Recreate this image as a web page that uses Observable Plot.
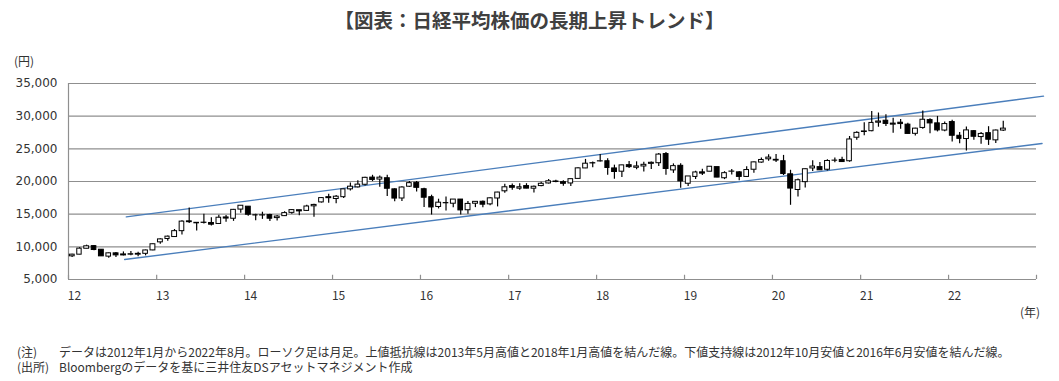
<!DOCTYPE html>
<html><head><meta charset="utf-8">
<script src="https://cdn.jsdelivr.net/npm/d3@7"></script>
<script src="https://cdn.jsdelivr.net/npm/@observablehq/plot@0.6"></script>
<style>
body{margin:0;background:#fff;}
#wrap{position:relative;width:1059px;height:381px;font-family:"Noto Sans CJK JP","Noto Sans",sans-serif;color:#333;}
#wrap svg{position:absolute;left:0;top:0;}
.t{position:absolute;white-space:nowrap;font-size:12px;line-height:16px;}
#title{position:absolute;left:0;top:8px;width:1059px;text-align:center;font-size:19.5px;line-height:24px;font-weight:bold;color:#404040;}
</style></head><body>
<div id="wrap">
<div id="title">【図表：日経平均株価の長期上昇トレンド】</div>
<div class="t" style="left:14px;top:53px;">(円)</div>
<div class="t" style="left:1020px;top:304px;">(年)</div>
<div class="t" style="left:17px;top:344px;">(注)</div>
<div class="t" style="left:59px;top:344px;">データは2012年1月から2022年8月。ローソク足は月足。上値抵抗線は2013年5月高値と2018年1月高値を結んだ線。下値支持線は2012年10月安値と2016年6月安値を結んだ線。</div>
<div class="t" style="left:17px;top:359px;">(出所)</div>
<div class="t" style="left:59px;top:359px;">Bloombergのデータを基に三井住友DSアセットマネジメント作成</div>
</div>
<script>
// Monthly candles, Jan 2012 – Aug 2022
const firstMonth = "2012-01-01";
const open = [
  8549, 8800, 9707, 10110, 9560, 8500, 9003, 8686, 8800, 8800, 8930, 9452,
  10688, 11200, 11500, 12400, 13900, 13600, 13700, 13650, 13500, 14500, 14300, 15700,
  16147, 14800, 14800, 14860, 14400, 14700, 15200, 15600, 15500, 16200, 16800, 17600,
  17325, 17600, 18800, 19100, 19500, 20600, 20300, 20500, 18800, 17400, 19200, 19800,
  18818, 17600, 16100, 16700, 16600, 17235, 15600, 16600, 16900, 16500, 17400, 18500,
  19298, 18900, 19300, 18900, 19300, 19700, 20000, 19900, 19700, 20400, 22000, 22800,
  23073, 23100, 22000, 21500, 22500, 22100, 22300, 22700, 22800, 24200, 21700, 22400,
  19655, 20700, 21400, 21500, 22200, 20500, 21500, 21400, 20700, 21800, 22900, 23400,
  23319, 23100, 21100, 18700, 19900, 22000, 22200, 21800, 23200, 23300, 23100, 26700,
  27575, 27700, 29000, 29300, 28700, 29000, 28700, 27300, 28200, 29400, 28900, 27800,
  29098, 27000, 26500, 27700, 26800, 27400, 26300, 27800
];
const high = [
  8866, 9866, 10255, 10190, 9591, 9066, 9136, 9222, 9288, 9179, 9500, 10433,
  11229, 11662, 12650, 13980, 15942, 13711, 15000, 14466, 14817, 14800, 15727, 16320,
  16164, 15000, 15300, 15000, 14800, 15376, 15700, 15600, 16374, 16500, 17520, 18030,
  17850, 18800, 19778, 20133, 20655, 20952, 20851, 20946, 18900, 19200, 20012, 20012,
  18951, 17905, 17291, 17613, 17251, 17235, 16938, 16900, 17000, 17500, 18350, 19592,
  19615, 19668, 19668, 19300, 19900, 20318, 20200, 20100, 20400, 22100, 23382, 22994,
  24129, 23486, 22502, 22500, 23050, 23011, 22949, 23000, 24286, 24448, 22698, 22698,
  20773, 21556, 21860, 22307, 22200, 21500, 21823, 21540, 22255, 22974, 23608, 24091,
  24115, 23995, 21719, 20365, 21916, 23185, 22900, 23338, 23600, 23725, 26890, 27602,
  28979, 30714, 30485, 30208, 29700, 29480, 28900, 28139, 30795, 29600, 29960, 29121,
  29388, 27500, 28338, 27800, 27500, 28389, 27900, 29222
];
const low = [
  8349, 8790, 9700, 9388, 8540, 8238, 8365, 8614, 8636, 8488, 8619, 9400,
  10398, 10857, 11500, 11805, 13555, 12415, 13500, 13188, 13400, 13748, 13900, 15150,
  14700, 13995, 14203, 13885, 13964, 14650, 15000, 14753, 15400, 14529, 16700, 16672,
  16592, 17400, 18550, 19000, 19300, 19990, 19115, 17714, 16901, 16930, 19100, 18400,
  16017, 14865, 15800, 15471, 16000, 14864, 15000, 16000, 16000, 16300, 16111, 18200,
  18650, 18650, 18900, 18224, 19200, 19600, 19800, 19280, 19239, 20400, 21972, 22100,
  23000, 20950, 20347, 20617, 22000, 21800, 21462, 21851, 22307, 20971, 21243, 18948,
  19241, 20315, 20911, 21500, 20580, 20289, 21000, 20110, 20600, 21276, 22800, 23100,
  22892, 20916, 16358, 17646, 19000, 21529, 21710, 21600, 22878, 22948, 22948, 26300,
  27000, 27600, 28308, 28419, 27385, 28010, 27272, 26954, 28000, 27293, 27589, 27600,
  26044, 25776, 24682, 26319, 25688, 25520, 25800, 27650
];
const close = [
  8802, 9723, 10084, 9521, 8543, 9007, 8695, 8840, 8870, 8928, 9446, 10395,
  11139, 11559, 12398, 13861, 13775, 13677, 13668, 13389, 14456, 14328, 15662, 16291,
  14915, 14841, 14828, 14304, 14632, 15162, 15621, 15425, 16174, 16414, 17460, 17451,
  17674, 18798, 19207, 19520, 20563, 20236, 20585, 18890, 17388, 19083, 19747, 19034,
  17518, 16027, 16759, 16666, 17235, 15576, 16569, 16887, 16450, 17425, 18308, 19114,
  19041, 19119, 18909, 19197, 19651, 20033, 19925, 19646, 20356, 22012, 22725, 22765,
  23098, 22068, 21454, 22468, 22202, 22305, 22554, 22865, 24120, 21920, 22351, 20015,
  20773, 21385, 21206, 22259, 20601, 21276, 21522, 20704, 21756, 22927, 23294, 23657,
  23205, 21143, 18917, 20194, 21878, 22288, 21710, 23140, 23185, 22977, 26434, 27444,
  27663, 28966, 29179, 28813, 28860, 28792, 27284, 28090, 29453, 28893, 27822, 28792,
  27002, 26527, 27821, 26848, 27280, 26393, 27802, 28092
];
// Trend lines (endpoints)
const upperDates = ["2012-08-28", "2023-01-30"];
const upperValues = [14580, 33060];
const lowerDates = ["2012-08-21", "2023-01-24"];
const lowerValues = [8060, 25816];
// Axes
const yTicks = [5000, 10000, 15000, 20000, 25000, 30000, 35000];
const yearTicks = [2012, 2013, 2014, 2015, 2016, 2017, 2018, 2019, 2020, 2021, 2022, 2023];
const yearLabels = ["12", "13", "14", "15", "16", "17", "18", "19", "20", "21", "22", ""];

const start = new Date(firstMonth);
const candles = open.map((o, i) => {
  const m = d3.utcMonth.offset(start, i);
  return {m, m2: d3.utcMonth.offset(m, 1), mid: d3.utcDay.offset(m, 15),
    open: o, high: high[i], low: low[i], close: close[i],
    body: close[i] >= o ? "#ffffff" : "#000000"};
});
const upper = upperDates.map((d, i) => ({x: new Date(d), y: upperValues[i]}));
const lower = lowerDates.map((d, i) => ({x: new Date(d), y: lowerValues[i]}));
const yearDates = yearTicks.map(y => new Date(Date.UTC(y, 0, 1)));
const labelOf = new Map(yearDates.map((d, i) => [+d, yearLabels[i]]));

const chart = Plot.plot({
  width: 1059, height: 381,
  marginLeft: 68, marginRight: 23, marginTop: 83, marginBottom: 102,
  style: {background: "transparent", color: "#333"},
  x: {type: "utc", domain: [yearDates[0], yearDates[yearDates.length - 1]], axis: null},
  y: {domain: [5000, 35000], axis: null},
  color: {type: "identity"},
  marks: [
    Plot.ruleY(yTicks, {stroke: "#8f8f8f", strokeWidth: 1.2}),
    Plot.ruleX([yearDates[0]], {y1: 5000, y2: 35000, stroke: "#8f8f8f", strokeWidth: 1.2}),
    Plot.ruleX(yearDates, {y1: 5000, y2: 5650, stroke: "#8f8f8f", strokeWidth: 1.2}),
    Plot.axisY(yTicks, {tickSize: 0, tickPadding: 11, tickFormat: d3.format(","),
      fontFamily: "DejaVu Sans", fontSize: 12, fill: "#333"}),
    Plot.axisX(yearDates, {tickSize: 0, tickPadding: 12, dx: 6, tickFormat: d => labelOf.get(+d),
      fontFamily: "Noto Sans CJK JP", fontSize: 12, fill: "#333"}),
    Plot.line(upper, {x: "x", y: "y", stroke: "#4a7ebb", strokeWidth: 1.4}),
    Plot.line(lower, {x: "x", y: "y", stroke: "#4a7ebb", strokeWidth: 1.4}),
    Plot.ruleX(candles, {x: "mid", y1: "low", y2: "high", stroke: "#000", strokeWidth: 1.2}),
    Plot.rect(candles, {x1: "m", x2: "m2", y1: "open", y2: "close", insetLeft: 1.3, insetRight: 1.3,
      fill: "body", stroke: "#000", strokeWidth: 1})
  ]
});
document.getElementById("wrap").prepend(chart);
</script>
</body></html>
